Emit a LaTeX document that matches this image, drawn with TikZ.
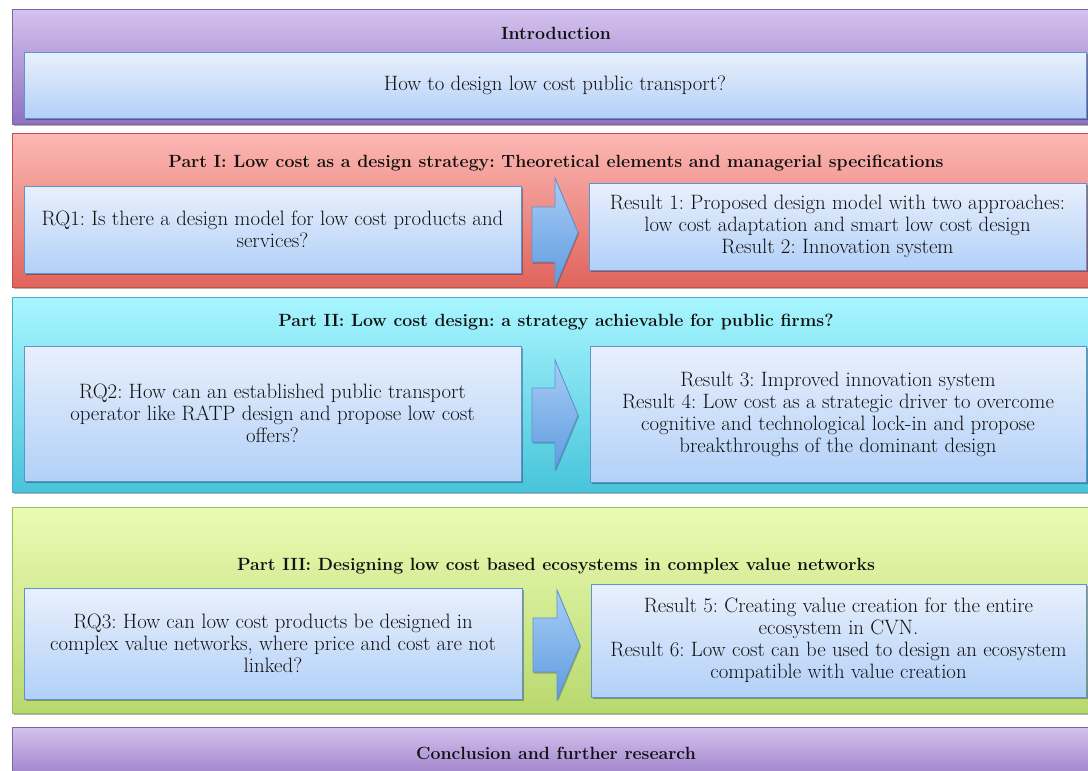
\documentclass[tikz,border=0pt]{standalone}
\usetikzlibrary{shadows}
\definecolor{purpTop}{HTML}{D4C2EF}
\definecolor{purpBot}{HTML}{9070C0}
\definecolor{purpLine}{HTML}{8064A2}
\definecolor{redTop}{HTML}{FCB8B4}
\definecolor{redBot}{HTML}{E0645C}
\definecolor{redLine}{HTML}{C0504D}
\definecolor{cyanTop}{HTML}{A8F6FF}
\definecolor{cyanBot}{HTML}{48C4DA}
\definecolor{cyanLine}{HTML}{4BACC6}
\definecolor{greenTop}{HTML}{EBFBB4}
\definecolor{greenBot}{HTML}{B8D86E}
\definecolor{greenLine}{HTML}{9BBB59}
\definecolor{boxTop}{HTML}{E9F0FC}
\definecolor{boxBot}{HTML}{B2D0F8}
\definecolor{boxLine}{HTML}{5B93D3}
\definecolor{arrTop}{HTML}{A9CDF5}
\definecolor{arrBot}{HTML}{5E9BE0}
\definecolor{txt}{HTML}{111111}
\begin{document}
\frenchspacing
\begin{tikzpicture}[x=1pt,y=-1pt,
  shade/.style={drop shadow={shadow xshift=1.5pt,shadow yshift=-2pt,opacity=0.3,fill=black}},
  band/.style={shade,draw=#1Line,line width=0.8pt,top color=#1Top,bottom color=#1Bot,
    inner sep=0pt,minimum width=1088pt},
  title/.style={font=\fontsize{17.7}{22}\selectfont\bfseries,text=txt,inner sep=0pt},
  qbox/.style={shade,draw=boxLine,line width=0.8pt,top color=boxTop,bottom color=boxBot,
    inner sep=0pt,align=center,text=txt,font=\fontsize{20.8}{22}\selectfont},
  barrow/.style={draw=boxLine,line width=0.8pt,top color=arrTop,bottom color=arrBot,
    drop shadow={shadow xshift=1pt,shadow yshift=-1.5pt,opacity=0.25,fill=black}}
]
\useasboundingbox (0,0) rectangle (1088,771);
\fill[white] (0,0) rectangle (1088,771);

% bands
\node[band=purp,minimum height=115pt] (intro) at (556,66.5) {};
\node[band=red,minimum height=154pt] (part1) at (556,210) {};
\node[band=cyan,minimum height=195pt] (part2) at (556,394.5) {};
\node[band=green,minimum height=206pt] (part3) at (556,610) {};
\node[band=purp,minimum height=63pt] (concl) at (556,758.5) {};

% titles
\node[title] (tintro) at (556,33) {Introduction};
\node[title] (tpart1) at (556,163) {Part I: Low cost as a design strategy: Theoretical elements and managerial specifications};
\node[title] (tpart2) at (556,322) {Part II: Low cost design: a strategy achievable for public firms?};
\node[title] (tpart3) at (556,566) {Part III: Designing low cost based ecosystems in complex value networks};
\node[title] (tconcl) at (556,753) {Conclusion and further research};

% inner boxes
\node[qbox,minimum width=1062pt,minimum height=66pt] (introq) at (555,85)
  {How to design low cost public transport?};
\node[qbox,minimum width=497pt,minimum height=87pt] (rq1) at (272.5,229.5)
  {RQ1: Is there a design model for low cost products and\\services?};
\node[qbox,minimum width=497pt,minimum height=87pt] (res1) at (837.5,226.5)
  {Result 1: Proposed design model with two approaches:\\low cost adaptation and smart low cost design\\Result 2: Innovation system};
\node[qbox,minimum width=497pt,minimum height=135pt] (rq2) at (272.5,413.5)
  {RQ2: How can an established public transport\\operator like RATP design and propose low cost\\offers?};
\node[qbox,minimum width=496pt,minimum height=136pt] (res2) at (838,414)
  {Result 3: Improved innovation system\\Result 4: Low cost as a strategic driver to overcome\\cognitive and technological lock-in and propose\\breakthroughs of the dominant design};
\node[qbox,minimum width=498pt,minimum height=111pt] (rq3) at (273,643.5)
  {RQ3: How can low cost products be designed in\\complex value networks, where price and cost are not\\linked?};
\node[qbox,minimum width=495pt,minimum height=113pt] (res3) at (838.5,640.5)
  {Result 5: Creating value creation for the entire\\ecosystem in CVN.\\Result 6: Low cost can be used to design an ecosystem\\compatible with value creation};

% block arrows
\draw[barrow] (532,207) -- (555,207) -- (555,178) -- (578,232.5) -- (555,287) -- (555,262) -- (532,262) -- cycle;
\draw[barrow] (532,388) -- (555,388) -- (555,360) -- (578,415) -- (555,470) -- (555,442) -- (532,442) -- cycle;
\draw[barrow] (533,618) -- (557,618) -- (557,590) -- (580,645) -- (557,700) -- (557,672) -- (533,672) -- cycle;
\end{tikzpicture}
\end{document}
